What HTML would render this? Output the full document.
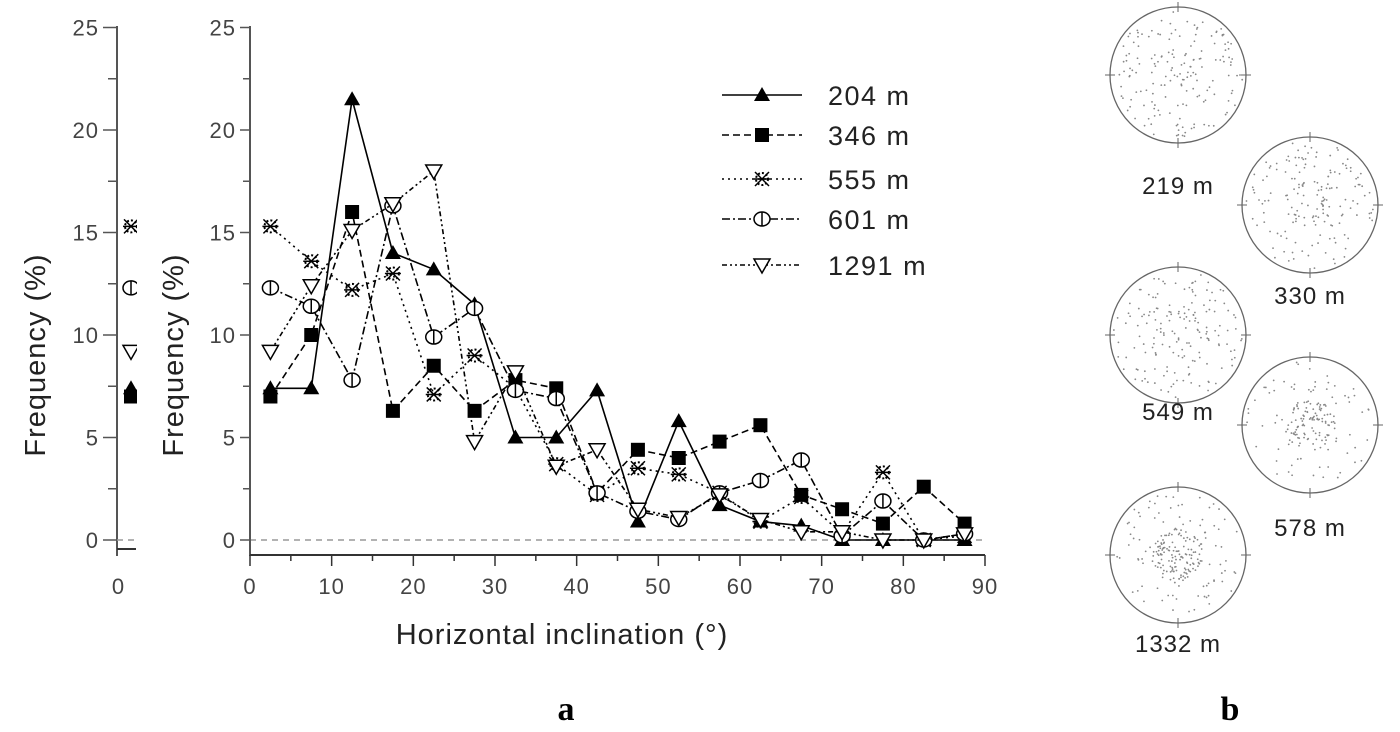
<!DOCTYPE html>
<html><head><meta charset="utf-8"><style>
html,body{margin:0;padding:0;background:#fff;}
svg{display:block;font-family:"Liberation Sans",sans-serif;}
</style></head><body>
<svg id="c" width="1400" height="732" viewBox="0 0 1400 732">
<defs><clipPath id="lc"><rect x="110" y="0" width="27" height="600"/></clipPath></defs>
<g id="left"></g>
<g id="main"></g>
<g id="legend"></g>
<g id="stereo"></g>
<text x="562" y="644" font-size="29" letter-spacing="1" text-anchor="middle" fill="#222">Horizontal inclination (°)</text>
<text transform="translate(183,355) rotate(-90)" font-size="29" letter-spacing="1" text-anchor="middle" fill="#222">Frequency (%)</text>
<text transform="translate(45,355) rotate(-90)" font-size="29" letter-spacing="1" text-anchor="middle" fill="#222">Frequency (%)</text>
<text x="566" y="720" font-size="34" font-weight="bold" font-family="Liberation Serif,serif" text-anchor="middle">a</text>
<text x="1230" y="720" font-size="34" font-weight="bold" font-family="Liberation Serif,serif" text-anchor="middle">b</text>
</svg>
<script>
const categories=[2.5,7.5,12.5,17.5,22.5,27.5,32.5,37.5,42.5,47.5,52.5,57.5,62.5,67.5,72.5,77.5,82.5,87.5];
const s204=[7.4,7.4,21.5,14,13.2,11.5,5,5,7.3,0.9,5.8,1.7,0.9,0.7,0,0,0,0];
const s346=[7,10,16,6.3,8.5,6.3,7.8,7.4,2.3,4.4,4,4.8,5.6,2.2,1.5,0.8,2.6,0.8];
const s555=[15.3,13.6,12.2,13,7.1,9,7.4,3.7,2.2,3.5,3.2,2.3,0.9,2.1,0.3,3.3,0,0.2];
const s601=[12.3,11.4,7.8,16.3,9.9,11.3,7.3,6.9,2.3,1.4,1,2.3,2.9,3.9,0.2,1.9,0,0.3];
const s1291=[9.2,12.4,15.1,16.4,18,4.8,8.2,3.6,4.4,1.5,1.1,2.2,1,0.4,0.4,0,0,0.3];
const seriesNames=["204 m","346 m","555 m","601 m","1291 m"];
const yTicks=[0,5,10,15,20,25];
const xTicks=[0,10,20,30,40,50,60,70,80,90];
const stereoLabels=["219 m","330 m","549 m","578 m","1332 m"];

const NS="http://www.w3.org/2000/svg";
function mk(t,a,p){const e=document.createElementNS(NS,t);for(const k in a)e.setAttribute(k,a[k]);p.appendChild(e);return e;}
const X=v=>250+v*(985-250)/90;
const Y=v=>540-v*20.5;
const main=document.getElementById('main'),left=document.getElementById('left'),leg=document.getElementById('legend'),st=document.getElementById('stereo');
const styles=[
 {d:"",m:"tri"},{d:"7,4",m:"sq"},{d:"2,4",m:"star"},{d:"8,3,2,3",m:"circ"},{d:"5,3,2,3,2,3",m:"itri"}];
const data=[s204,s346,s555,s601,s1291];

function marker(g,type,x,y){
 let e;
 if(type==="tri"){e=mk('polygon',{points:`${x},${y-8} ${x-8},${y+6} ${x+8},${y+6}`,fill:'#000'},g);}
 else if(type==="sq"){e=mk('rect',{x:x-7,y:y-7,width:14,height:14,fill:'#000'},g);}
 else if(type==="star"){e=mk('g',{},g);
  mk('circle',{cx:x,cy:y,r:6,fill:'none',stroke:'#000','stroke-width':2,'stroke-dasharray':'2,2'},e);
  mk('path',{d:`M${x-7},${y-7}L${x+7},${y+7}M${x+7},${y-7}L${x-7},${y+7}M${x-8},${y}L${x+8},${y}`,stroke:'#000','stroke-width':1.5},e);}
 else if(type==="circ"){e=mk('g',{},g);
  mk('ellipse',{cx:x,cy:y,rx:8,ry:7,fill:'#fff',stroke:'#000','stroke-width':1.5},e);
  mk('line',{x1:x,y1:y-7,x2:x,y2:y+7,stroke:'#000','stroke-width':1.5},e);}
 else {e=mk('polygon',{points:`${x-8},${y-6} ${x+8},${y-6} ${x},${y+8}`,fill:'#fff',stroke:'#000','stroke-width':1.5},g);}
 return e;
}

mk('line',{x1:250,y1:Y(0),x2:985,y2:Y(0),stroke:'#999','stroke-width':1.5,'stroke-dasharray':'6,5'},main);
const ya=mk('line',{x1:250,y1:26,x2:250,y2:556,stroke:'#555','stroke-width':2},main);


const xa=mk('line',{x1:250,y1:555,x2:985,y2:555,stroke:'#333','stroke-width':2},main);


for(let v=0;v<=25;v+=2.5){const big=v%5===0;mk('line',{x1:big?240:243,y1:Y(v),x2:250,y2:Y(v),stroke:'#555','stroke-width':1.5},main);
 mk('line',{x1:big?103:108,y1:Y(v),x2:117,y2:Y(v),stroke:'#555','stroke-width':1.5},left);}
yTicks.forEach(v=>{const t=mk('text',{x:236,y:Y(v)+8,'font-size':22,'letter-spacing':1,'text-anchor':'end',fill:'#444'},main);t.textContent=v;
 
 
 const t2=mk('text',{x:99,y:Y(v)+8,'font-size':22,'letter-spacing':1,'text-anchor':'end',fill:'#444'},left);t2.textContent=v;
 
 });
for(let v=0;v<=90;v+=5){mk('line',{x1:X(v),y1:555,x2:X(v),y2:v%10===0?566:561,stroke:'#333','stroke-width':1.5},main);}
xTicks.forEach(v=>{const t=mk('text',{x:X(v),y:594,'font-size':22,'letter-spacing':1,'text-anchor':'middle',fill:'#444'},main);t.textContent=v;
 
 });
mk('line',{x1:117,y1:26,x2:117,y2:556,stroke:'#555','stroke-width':2},left);
mk('line',{x1:117,y1:549,x2:136,y2:549,stroke:'#333','stroke-width':2},left);
mk('line',{x1:117,y1:Y(0),x2:136,y2:Y(0),stroke:'#999','stroke-width':1.5,'stroke-dasharray':'6,5'},left);
const lt0=mk('text',{x:118,y:594,'font-size':22,'text-anchor':'middle',fill:'#444'},left);lt0.textContent="0";
const lg=mk('g',{'clip-path':'url(#lc)'},left);

data.forEach((s,i)=>{
 const g=mk('g',{},main);
 
 
 const pts=s.map((v,j)=>X(categories[j])+','+Y(v)).join(' ');
 const pl=mk('polyline',{points:pts,fill:'none',stroke:'#000','stroke-width':1.6},g);
 if(styles[i].d)pl.setAttribute('stroke-dasharray',styles[i].d);
 s.forEach((v,j)=>{const m=marker(g,styles[i].m,X(categories[j]),Y(v));
  
  });
 marker(lg,styles[i].m,131,Y(s[0]));
 const ly=[95,135,179,219,265][i];
 const ll=mk('line',{x1:722,y1:ly,x2:802,y2:ly,stroke:'#000','stroke-width':1.6},leg);
 if(styles[i].d)ll.setAttribute('stroke-dasharray',styles[i].d);
 const lm=marker(leg,styles[i].m,762,ly);
 
 
 const lt=mk('text',{x:828,y:ly+10,'font-size':27,'letter-spacing':1.5,fill:'#222'},leg);lt.textContent=seriesNames[i];
 
 
});

const nets=[[1178,75,185],[1310,205,295],[1178,335,411],[1310,425,527],[1178,555,643]];
let seed=7;const rnd=()=>{seed=(seed*16807)%2147483647;return seed/2147483647;};
nets.forEach((n,i)=>{
 const g=mk('g',{},st);
 
 
 const r=68;
 mk('circle',{cx:n[0],cy:n[1],r:r,fill:'none',stroke:'#666','stroke-width':1.3},g);
 mk('path',{d:`M${n[0]-r-5},${n[1]}h10M${n[0]+r-5},${n[1]}h10M${n[0]},${n[1]-r-5}v10M${n[0]},${n[1]+r-5}v10`,stroke:'#666','stroke-width':1},g);
 const cnt=i===4?220:170,conc=i>=3?0.6:0.1;
 for(let k=0;k<cnt;k++){const a=rnd()*6.283;let rr=Math.sqrt(rnd())*r*0.95;if(rnd()<conc)rr*=0.4;
  mk('circle',{cx:n[0]+rr*Math.cos(a),cy:n[1]+rr*Math.sin(a),r:0.9,fill:'#888'},g);}
 const t=mk('text',{x:n[0],y:n[2]+9,'font-size':24,'letter-spacing':1,'text-anchor':'middle',fill:'#222'},st);t.textContent=stereoLabels[i];
 
 
});
</script>
</body></html>
